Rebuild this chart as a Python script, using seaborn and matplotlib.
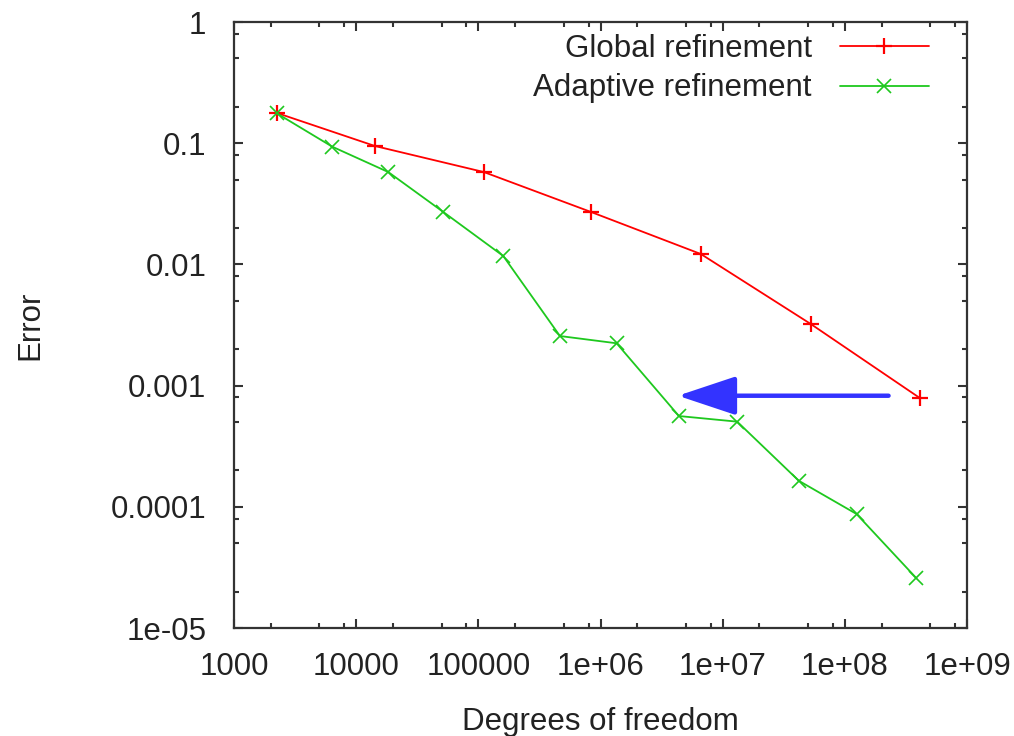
import numpy as np
import pandas as pd
import matplotlib
matplotlib.use("Agg")
import matplotlib.pyplot as plt
import seaborn as sns
from matplotlib.ticker import LogLocator, NullFormatter

# Global refinement: degrees of freedom vs. error
global_dofs = [2250, 14250, 111000, 834000, 6.63e6, 5.27e7, 4.11e8]
global_err = [0.1775, 0.0948, 0.0578, 0.0271, 0.01218, 0.00322, 0.00079]

# Adaptive refinement
adaptive_dofs = [2250, 6370, 18320, 51600, 160000, 465600, 1.355e6,
                 4.385e6, 1.315e7, 4.2e7, 1.247e8, 3.86e8]
adaptive_err = [0.176, 0.0936, 0.0578, 0.0271, 0.01173, 0.002565, 0.002234,
                0.000561, 0.000504, 0.000164, 8.72e-5, 2.57e-5]

x_ticks = [1e3, 1e4, 1e5, 1e6, 1e7, 1e8, 1e9]
x_labels = ["1000", "10000", "100000", "1e+06", "1e+07", "1e+08", "1e+09"]
y_ticks = [1e-5, 1e-4, 1e-3, 1e-2, 1e-1, 1]
y_labels = ["1e-05", "0.0001", "0.001", "0.01", "0.1", "1"]

# arrow annotation (from -> to)
arrow_from = (2.28e8, 8.25e-4)
arrow_to = (4.3e6, 8.25e-4)

sns.set_style("ticks")
plt.rcParams["font.family"] = ["Liberation Sans", "DejaVu Sans"]

FS = 22.5
RED = "#ff0000"
GREEN = "#1ec81e"

df_g = pd.DataFrame({"dofs": global_dofs, "err": global_err})
df_a = pd.DataFrame({"dofs": adaptive_dofs, "err": adaptive_err})

fig = plt.figure(figsize=(10.14, 7.36), dpi=100)
ax = fig.add_axes([234 / 1014, 1 - 628 / 736, 733 / 1014, 606 / 736])

sns.lineplot(data=df_g, x="dofs", y="err", ax=ax, color=RED, marker="+",
             markersize=11, markeredgewidth=1.6, markeredgecolor=RED,
             linewidth=1.3, sort=False, label="Global refinement")
sns.lineplot(data=df_a, x="dofs", y="err", ax=ax, color=GREEN, marker="x",
             markersize=10, markeredgewidth=1.2, markeredgecolor=GREEN,
             linewidth=1.3, sort=False, label="Adaptive refinement")

ax.set_xscale("log")
ax.set_yscale("log")
ax.set_xlim(1e3, 1e9)
ax.set_ylim(1e-5, 1)

ax.set_xticks(x_ticks, x_labels)
ax.set_yticks(y_ticks, y_labels)
ax.xaxis.set_minor_locator(LogLocator(base=10, subs=(2, 5, 8)))
ax.yaxis.set_minor_locator(LogLocator(base=10, subs=(2, 5, 8)))
ax.xaxis.set_minor_formatter(NullFormatter())
ax.yaxis.set_minor_formatter(NullFormatter())

for s in ax.spines.values():
    s.set_visible(True)
    s.set_linewidth(1.6)
    s.set_color("#333333")
ax.tick_params(which="both", direction="in", top=True, right=True,
               color="#333333", width=1.5, labelsize=FS, labelcolor="#222222")
ax.tick_params(which="major", length=6.5)
ax.tick_params(which="minor", length=3.5)
ax.tick_params(axis="x", which="major", pad=17)
ax.tick_params(axis="y", which="major", pad=20)

ax.set_xlabel("Degrees of freedom", fontsize=FS, color="#222222", labelpad=18)
ax.set_ylabel("Error", fontsize=FS, color="#222222", labelpad=47)

ax.annotate("", xy=arrow_to, xytext=arrow_from,
            arrowprops=dict(arrowstyle="-|>,head_length=3.6,head_width=1.2",
                            color="#3333ff", linewidth=3.2, shrinkA=0, shrinkB=0))

leg = ax.legend(loc="upper right", bbox_to_anchor=(0.948, 0.98), frameon=False,
                markerfirst=False, fontsize=FS, handlelength=2.85,
                handletextpad=0.9, labelspacing=0.3, borderpad=0,
                borderaxespad=0)
for t in leg.get_texts():
    t.set_color("#222222")

fig.savefig("out.png", dpi=100)
